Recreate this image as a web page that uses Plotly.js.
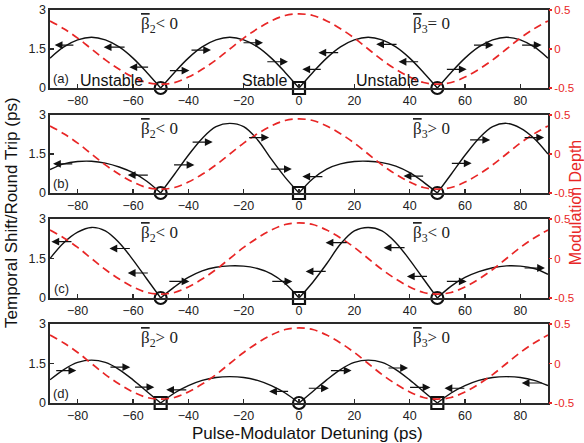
<!DOCTYPE html>
<html>
<head>
<meta charset="utf-8">
<script src="https://cdn.plot.ly/plotly-3.0.1.min.js"></script>
<style>html,body{margin:0;padding:0;background:#fff;}#chart{width:584px;height:443px;}</style>
</head>
<body>
<div id="chart"></div>
<script>
// Detuning grid (ps)
const detuning = [-90,-85,-80,-75,-70,-65,-60,-55,-50,-45,-40,-35,-30,-25,-20,-15,-10,-5,0,5,10,15,20,25,30,35,40,45,50,55,60,65,70,75,80,85,90];

// Modulation depth (right axis), same in every panel
const modDepth = [0.36,0.26,0.14,0,-0.14,-0.26,-0.36,-0.43,-0.45,-0.43,-0.36,-0.26,-0.14,0,0.14,0.26,0.36,0.43,0.45,0.43,0.36,0.26,0.14,0,-0.14,-0.26,-0.36,-0.43,-0.45,-0.43,-0.36,-0.26,-0.14,0,0.14,0.26,0.36];

// Temporal shift per round trip (ps), panels (a)-(d)
const shiftA = [1.15,1.58,1.85,1.95,1.85,1.58,1.15,0.60,0,0.60,1.15,1.58,1.85,1.95,1.85,1.58,1.15,0.60,0,0.60,1.15,1.58,1.85,1.95,1.85,1.58,1.15,0.60,0,0.60,1.15,1.58,1.85,1.95,1.85,1.58,1.15];
const shiftB = [0.90,1.12,1.21,1.22,1.15,1.00,0.78,0.45,0,0.72,1.45,2.10,2.55,2.68,2.55,2.05,1.30,0.60,0,0.55,0.92,1.12,1.21,1.22,1.17,1.03,0.78,0.42,0,0.72,1.45,2.10,2.55,2.68,2.50,2.10,1.50];
const shiftC = [1.50,2.10,2.50,2.68,2.55,2.10,1.45,0.72,0,0.42,0.78,1.03,1.17,1.22,1.21,1.12,0.92,0.55,0,0.60,1.30,2.05,2.55,2.68,2.55,2.10,1.45,0.72,0,0.45,0.78,1.00,1.15,1.22,1.21,1.12,0.90];
const shiftD = [0.88,1.27,1.54,1.63,1.54,1.27,0.88,0.44,0,0.38,0.66,0.86,0.97,1.00,0.97,0.86,0.66,0.38,0,0.44,0.88,1.27,1.54,1.63,1.54,1.27,0.88,0.44,0,0.38,0.66,0.86,0.97,1.00,0.97,0.86,0.66];

// Fixed points: circles and squares (x positions, y = 0)
const circlesA = [-50,50], squaresA = [0];
const circlesB = [-50,50], squaresB = [0];
const circlesC = [-50,50], squaresC = [0];
const circlesD = [0],      squaresD = [-50,50];

// Drift arrows: [tail x, head x, y]
const arrowsA = [[-81,-88.3,1.65],[-62.5,-70.6,1.57],[-54,-61.3,0.80],[-47.2,-39.6,0.67],[-39.4,-31.8,1.46],[-20.6,-13,1.74],[-12,-4,1.01],[8.4,1.2,0.72],[14.7,7,1.36],[35.8,27.9,1.68],[43.6,36,1.01],[52.9,60.6,0.72],[62.7,70.3,1.65],[80.1,87.7,1.65]];
const arrowsB = [[-81.4,-88.9,1.12],[-54.1,-61.9,0.69],[-45.7,-37.8,1.08],[-39,-31.2,1.96],[-18.6,-10.8,2.13],[-10.6,-2.6,0.92],[9,1.2,0.63],[45.4,37.8,0.65],[54.7,62.4,1.14],[61.3,69.1,2.04],[81,88.6,2.13]];
const arrowsC = [[-81.7,-89.5,2.14],[-60.6,-68.5,1.88],[-54.1,-61.9,0.95],[-47.4,-39.6,0.63],[-10.2,-2.4,0.63],[10.2,2.4,1.01],[17.8,9.6,2.10],[38.7,30.6,1.91],[46.8,39,0.82],[52.9,60.6,0.63],[81,88.9,1.14]];
const arrowsD = [[-88.3,-80.5,1.23],[-68.7,-61,1.36],[-59.8,-52.3,0.60],[-40.2,-48,0.50],[-3.4,-10.8,0.44],[3,10.8,0.56],[11,19,1.23],[31.8,39.4,1.33],[39.6,47.5,0.59],[60.3,52.6,0.56],[88.3,80.5,0.76]];

const panelLabels = ['(a)','(b)','(c)','(d)'];
const BETA = '<span style="text-decoration:overline">β</span>';
const beta2Labels = [BETA+'<sub>2</sub>&lt; 0',BETA+'<sub>2</sub>&lt; 0',BETA+'<sub>2</sub>&lt; 0',BETA+'<sub>2</sub>&gt; 0'];
const beta3Labels = [BETA+'<sub>3</sub>= 0',BETA+'<sub>3</sub>&gt; 0',BETA+'<sub>3</sub>&lt; 0',BETA+'<sub>3</sub>&gt; 0'];
const stabilityText = ['Unstable','Stable','Unstable'];
const stabilityX = [-67.6,-12.6,31.9];

const xTicks = [-80,-60,-40,-20,0,20,40,60,80];
const leftTicks = [0,1.5,3], leftTickText = ['0','1.5','3'];
const rightTicks = [-0.5,0,0.5], rightTickText = ['-0.5','0','0.5'];

const shifts = [shiftA,shiftB,shiftC,shiftD];
const circles = [circlesA,circlesB,circlesC,circlesD];
const squares = [squaresA,squaresB,squaresC,squaresD];
const arrows = [arrowsA,arrowsB,arrowsC,arrowsD];

const domains = [[0.8015,1.0],[0.5344,0.7328],[0.2672,0.4682],[0.0,0.2010]];
const RED = 'rgb(232,38,38)';
const FRAME = '#2a2a2a';
const SANS = 'Liberation Sans, Arial, sans-serif';
const SERIF = 'Liberation Serif, Times New Roman, serif';

// split a curve into arches at its zero points (so cusps stay sharp)
function arches(xs, ys){
  const segs = []; let cx=[], cy=[];
  for(let i=0;i<xs.length;i++){
    cx.push(xs[i]); cy.push(ys[i]);
    if(ys[i]===0 && cx.length>1){ segs.push([cx,cy]); cx=[xs[i]]; cy=[ys[i]]; }
  }
  if(cx.length>1) segs.push([cx,cy]);
  return segs;
}

const data = [];
const layout = {
  width:584, height:443,
  margin:{l:50,r:36,t:10,b:40,pad:0},
  paper_bgcolor:'#fff', plot_bgcolor:'#fff',
  showlegend:false,
  font:{family:SANS,size:12,color:'#222'},
  annotations:[]
};

for(let p=0;p<4;p++){
  const n = p+1;
  const xs = n===1?'':String(n);
  const xa = 'x'+xs, ya = 'y'+xs, yr = 'y'+(n+4);
  layout['xaxis'+xs] = {
    domain:[0,1], anchor:ya, range:[-90,90],
    tickvals:xTicks, ticks:'inside', ticklen:4, tickwidth:1.2, tickcolor:FRAME,
    showline:true, mirror:true, linecolor:FRAME, linewidth:1.6,
    showgrid:false, zeroline:false,
    tickfont:{family:SANS,size:12.5,color:'#222'}
  };
  layout['yaxis'+xs] = {
    domain:domains[p], anchor:xa, range:[0,3],
    tickvals:leftTicks, ticktext:leftTickText, ticks:'inside', ticklen:4, tickwidth:1.2, tickcolor:FRAME,
    showline:true, mirror:true, linecolor:FRAME, linewidth:1.6,
    showgrid:false, zeroline:false,
    tickfont:{family:SANS,size:12.5,color:'#222'}
  };
  layout['yaxis'+(n+4)] = {
    overlaying:ya, anchor:xa, side:'right', range:[-0.5,0.5],
    tickvals:rightTicks, ticktext:rightTickText, ticks:'outside', ticklen:3, tickwidth:1.2, tickcolor:RED,
    showline:false, showgrid:false, zeroline:false,
    tickfont:{family:SANS,size:11.5,color:RED}
  };

  // modulation depth
  data.push({x:detuning, y:modDepth, xaxis:xa, yaxis:yr, type:'scatter', mode:'lines',
    line:{color:RED,width:1.7,dash:'8px,5px',shape:'spline'}, hoverinfo:'skip'});
  // temporal shift arches
  arches(detuning, shifts[p]).forEach(s=>{
    data.push({x:s[0], y:s[1], xaxis:xa, yaxis:ya, type:'scatter', mode:'lines',
      line:{color:'#111',width:1.4,shape:'spline',smoothing:1}, hoverinfo:'skip'});
  });
  // fixed points
  data.push({x:circles[p], y:circles[p].map(()=>0), xaxis:xa, yaxis:ya, type:'scatter', mode:'markers',
    cliponaxis:false, marker:{symbol:'circle-open',size:12,color:'#111',line:{width:2.2,color:'#111'}}});
  data.push({x:squares[p], y:squares[p].map(()=>0), xaxis:xa, yaxis:ya, type:'scatter', mode:'markers',
    cliponaxis:false, marker:{symbol:'square-open',size:12,color:'#111',line:{width:2.2,color:'#111'}}});

  // arrows
  arrows[p].forEach(a=>{
    layout.annotations.push({xref:xa, yref:ya, axref:xa, ayref:ya,
      x:a[1], y:a[2], ax:a[0], ay:a[2], text:'', showarrow:true,
      arrowhead:2, arrowsize:1.3, arrowwidth:1.2, arrowcolor:'#111', standoff:0, startstandoff:0});
  });
  // panel label
  layout.annotations.push({xref:xa, yref:ya, x:-86, y:0.35, xanchor:'center', yanchor:'middle',
    text:panelLabels[p], showarrow:false, font:{family:SANS,size:13,color:'#222'}});
  // beta labels
  layout.annotations.push({xref:xa, yref:ya, x:-50.5, y:2.42, xanchor:'center', yanchor:'middle',
    text:beta2Labels[p], showarrow:false, font:{family:SERIF,size:17,color:'#222'}});
  layout.annotations.push({xref:xa, yref:ya, x:48, y:2.42, xanchor:'center', yanchor:'middle',
    text:beta3Labels[p], showarrow:false, font:{family:SERIF,size:17,color:'#222'}});
}

// stability labels in panel (a)
stabilityText.forEach((t,i)=>{
  layout.annotations.push({xref:'x', yref:'y', x:stabilityX[i], y:0.3, xanchor:'center', yanchor:'middle',
    text:t, showarrow:false, font:{family:SANS,size:16,color:'#111'}});
});

// axis titles
layout.annotations.push({xref:'paper', yref:'paper', x:0.5163, y:-0.078, xanchor:'center', yanchor:'middle',
  text:'Pulse-Modulator Detuning (ps)', showarrow:false, font:{family:SANS,size:17,color:'#111'}});
layout.annotations.push({xref:'paper', yref:'paper', x:-0.0763, y:0.4835, xanchor:'center', yanchor:'middle',
  text:'Temporal Shift/Round Trip (ps)', showarrow:false, textangle:-90, font:{family:SANS,size:17,color:'#111'}});
layout.annotations.push({xref:'paper', yref:'paper', x:1.0542, y:0.511, xanchor:'center', yanchor:'middle',
  text:'Modulation Depth', showarrow:false, textangle:-90, font:{family:SANS,size:16,color:RED}});

Plotly.newPlot('chart', data, layout, {staticPlot:true, displayModeBar:false});
</script>
</body>
</html>
